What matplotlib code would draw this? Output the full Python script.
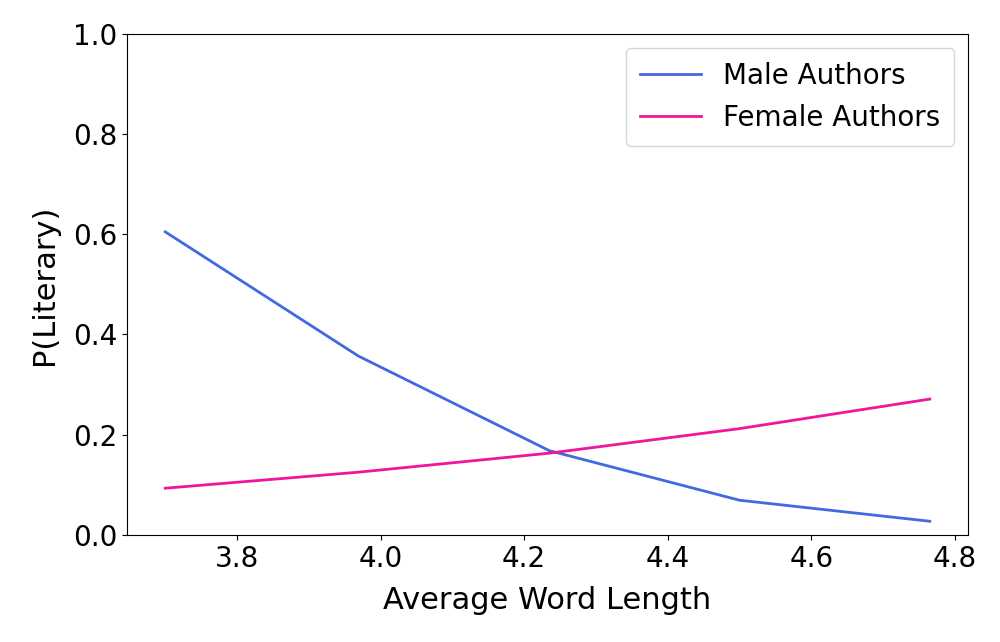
import matplotlib
matplotlib.use("Agg")
import matplotlib.pyplot as plt

word_length = [3.70, 3.969, 4.235, 4.500, 4.765]
male = [0.605, 0.357, 0.168, 0.069, 0.027]
female = [0.093, 0.125, 0.163, 0.212, 0.271]

fig = plt.figure(figsize=(10, 6.42), dpi=100)
ax = fig.add_axes([0.127, 0.167, 0.841, 0.78])
ax.plot(word_length, male, color="royalblue", lw=2, label="Male Authors")
ax.plot(word_length, female, color="#f0159a", lw=2, label="Female Authors")
ax.set_ylim(0, 1.0)
ax.set_xticks([3.8, 4.0, 4.2, 4.4, 4.6, 4.8])
ax.tick_params(labelsize=20)
ax.set_xlabel("Average Word Length", fontsize=22, labelpad=10)
ax.set_ylabel("P(Literary)", fontsize=22, labelpad=10)
ax.legend(fontsize=20, loc="upper right", borderpad=0.5, handlelength=2.2)
fig.savefig("out.png")
